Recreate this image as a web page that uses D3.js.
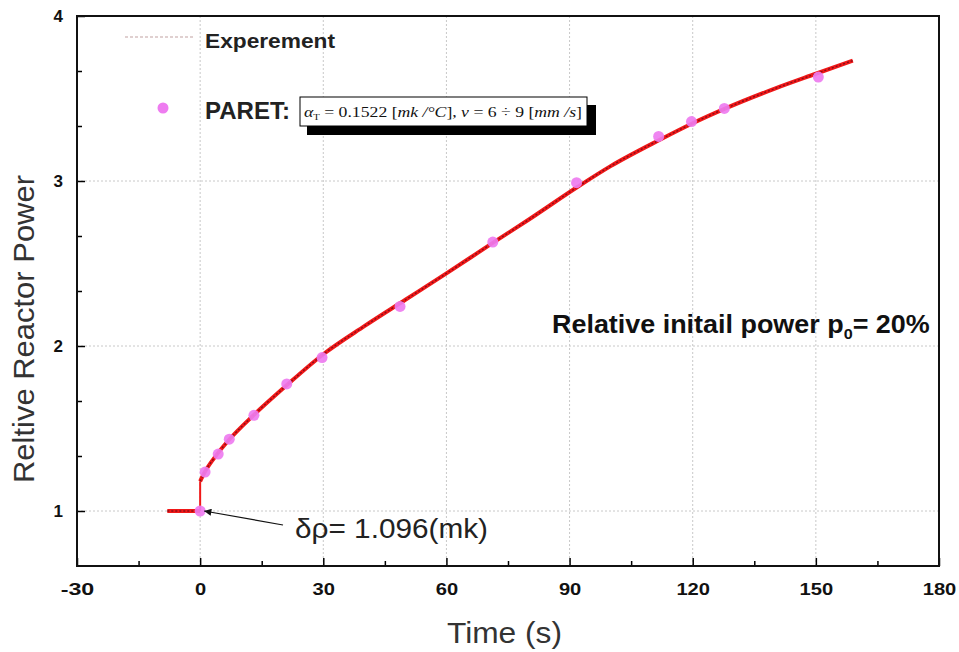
<!DOCTYPE html>
<html><head><meta charset="utf-8">
<script src="https://cdn.jsdelivr.net/npm/d3@7"></script>
<style>body{margin:0;background:#fff;} svg{display:block;font-family:"Liberation Sans",Arial,sans-serif;}</style>
</head><body><svg id="c" width="959" height="652"></svg>
<script>
// Experimental curve (time s, relative power)
const expBaseTime  = [-8, -4, 0];
const expBasePower = [1.0, 1.0, 1.0];
const expTime  = [0, 1, 4, 7, 13, 21, 30, 40, 50, 60, 71, 80, 92, 100, 112, 120, 128, 140, 150, 159];
const expPower = [1.18, 1.23, 1.34, 1.43, 1.58, 1.76, 1.95, 2.12, 2.28, 2.44, 2.62, 2.765, 2.965, 3.09, 3.25, 3.35, 3.44, 3.56, 3.65, 3.73];
// PARET points
const paretTime  = [0, 1.2, 4.4, 7.1, 13.1, 21.1, 29.7, 48.7, 71.3, 91.7, 111.7, 119.7, 127.7, 150.6];
const paretPower = [1.0, 1.236, 1.345, 1.435, 1.58, 1.77, 1.93, 2.24, 2.63, 2.99, 3.27, 3.36, 3.44, 3.63];
const xTicks = [-30, 0, 30, 60, 90, 120, 150, 180];
const yTicks = [1, 2, 3, 4];

const svg = d3.select("#c");
const L = 77, R = 939, T = 16, B = 566;
const x = d3.scaleLinear().domain([-30, 180]).range([L, R]);
const y = d3.scaleLinear().domain([2/3, 4]).range([B, T]);

// grid
const grid = svg.append("g").attr("stroke", "#c8c8c8").attr("stroke-width", 1).attr("stroke-dasharray", "2,2");
xTicks.filter(v => v > -30 && v < 180).forEach(v => grid.append("line").attr("x1", x(v)).attr("x2", x(v)).attr("y1", T).attr("y2", B));
yTicks.filter(v => v < 4).forEach(v => grid.append("line").attr("x1", L).attr("x2", R).attr("y1", y(v)).attr("y2", y(v)));

// axes with inward ticks
const fmt = d => String(d);
const xAxis = d3.axisBottom(x).tickValues(xTicks).tickSize(-8).tickPadding(17).tickFormat(fmt);
const gx = svg.append("g").attr("transform", `translate(0,${B})`).call(xAxis);
const xMinor = d3.axisBottom(x).tickValues(d3.range(-15, 180, 30)).tickSize(-5).tickFormat("");
svg.append("g").attr("transform", `translate(0,${B})`).call(xMinor);
const yAxis = d3.axisLeft(y).tickValues(yTicks).tickSize(-8).tickPadding(14).tickFormat(fmt);
const gy = svg.append("g").attr("transform", `translate(${L},0)`).call(yAxis);
const yMinor = d3.axisLeft(y).tickValues([4/3, 5/3, 7/3, 8/3, 10/3, 11/3]).tickSize(-5).tickFormat("");
svg.append("g").attr("transform", `translate(${L},0)`).call(yMinor);
svg.selectAll(".domain").remove();
svg.selectAll(".tick line").attr("stroke", "#000").attr("stroke-width", 1.5);
svg.selectAll(".tick text").attr("font-size", 17).attr("font-weight", "bold").attr("fill", "#111")
   .attr("font-family", "'Liberation Sans',Arial,sans-serif");
gx.selectAll(".tick text").attr("dy", "0.71em").attr("textLength", d => String(d).length * 11.2).attr("lengthAdjust", "spacingAndGlyphs");

// frame
svg.append("rect").attr("x", L).attr("y", T).attr("width", R - L).attr("height", B - T)
  .attr("fill", "none").attr("stroke", "#111").attr("stroke-width", 2);

// experimental curve
const baseLine = d3.line().x(i => x(expBaseTime[i])).y(i => y(expBasePower[i]));
const riseLine = d3.line().x(i => x(expTime[i])).y(i => y(expPower[i])).curve(d3.curveMonotoneX);
const basePts = expBaseTime.map((t, i) => i);
const risePts = expTime.map((t, i) => i);
svg.append("path").attr("d", baseLine(basePts)).attr("fill", "none").attr("stroke", "#f01818").attr("stroke-width", 4);
svg.append("path").attr("d", `M${x(0)},${y(1)}L${x(expTime[0])},${y(expPower[0])}`).attr("fill", "none").attr("stroke", "#f01818").attr("stroke-width", 2);
svg.append("path").datum(risePts).attr("d", riseLine).attr("fill", "none").attr("stroke", "#f01818").attr("stroke-width", 4).attr("stroke-linejoin", "round");
svg.append("path").datum(risePts).attr("d", riseLine).attr("fill", "none").attr("stroke", "#8a0c18").attr("stroke-width", 1.4).attr("stroke-dasharray", "2,2");
svg.append("path").datum(basePts).attr("d", baseLine).attr("fill", "none").attr("stroke", "#8a0c18").attr("stroke-width", 1.4).attr("stroke-dasharray", "2,2");

// PARET points
svg.append("g").selectAll("circle").data(paretTime).join("circle")
  .attr("cx", d => x(d)).attr("cy", (d, i) => y(paretPower[i])).attr("r", 5.5).attr("fill", "#ee7cf0").attr("opacity", 0.92);

// legend
svg.append("line").attr("x1", 125).attr("x2", 195).attr("y1", 37).attr("y2", 37)
  .attr("stroke", "#e0d0d0").attr("stroke-width", 2).attr("stroke-dasharray", "3,2");
svg.append("text").attr("x", 205).attr("y", 48).attr("font-size", 21).attr("font-weight", "bold").attr("fill", "#222")
  .attr("textLength", 130).attr("lengthAdjust", "spacingAndGlyphs").text("Experement");
svg.append("circle").attr("cx", 163).attr("cy", 108).attr("r", 5.5).attr("fill", "#ee7cf0");
svg.append("text").attr("x", 205).attr("y", 119).attr("font-size", 24).attr("font-weight", "bold").attr("fill", "#222")
  .attr("textLength", 85).attr("lengthAdjust", "spacingAndGlyphs").text("PARET:");
svg.append("rect").attr("x", 307).attr("y", 105).attr("width", 289).attr("height", 30).attr("fill", "#000");
svg.append("rect").attr("x", 300).attr("y", 97).attr("width", 287).attr("height", 29).attr("fill", "#fff").attr("stroke", "#000").attr("stroke-width", 1);
const ft = svg.append("text").attr("transform", "translate(304,117) scale(1.18,1)").attr("font-family", "'Liberation Serif','Times New Roman',serif").attr("font-size", 15).attr("fill", "#111");
ft.append("tspan").attr("font-style", "italic").text("α");
ft.append("tspan").attr("font-size", 9).attr("dy", 3).text("T");
ft.append("tspan").attr("dy", -3).text(" = 0.1522 [");
ft.append("tspan").attr("font-style", "italic").text("mk /°C");
ft.append("tspan").text("], ");
ft.append("tspan").attr("font-style", "italic").text("v");
ft.append("tspan").text(" = 6 ÷ 9 [");
ft.append("tspan").attr("font-style", "italic").text("mm /s");
ft.append("tspan").text("]");

// annotation
svg.append("defs").append("marker").attr("id", "ah").attr("viewBox", "0 0 10 10").attr("refX", 10).attr("refY", 5)
  .attr("markerWidth", 8).attr("markerHeight", 6).attr("orient", "auto").append("path").attr("d", "M0,0L10,5L0,10z").attr("fill", "#111");
svg.append("line").attr("x1", 283).attr("y1", 525).attr("x2", x(0) + 4).attr("y2", y(1)).attr("stroke", "#111").attr("stroke-width", 1.2).attr("marker-end", "url(#ah)");
svg.append("text").attr("x", 295).attr("y", 538).attr("font-size", 27).attr("fill", "#222")
  .attr("textLength", 193).attr("lengthAdjust", "spacingAndGlyphs").text("δρ= 1.096(mk)");

const rt = svg.append("text").attr("transform", "translate(552,333) scale(1.077,1)").attr("font-size", 25).attr("font-weight", "bold").attr("fill", "#111");
rt.append("tspan").text("Relative initail power p");
rt.append("tspan").attr("font-size", 15).attr("dy", 6).text("0");
rt.append("tspan").attr("dy", -6).text("= 20%");

// axis titles
svg.append("text").attr("x", 447).attr("y", 643).attr("font-size", 29).attr("fill", "#333")
  .attr("textLength", 115).attr("lengthAdjust", "spacingAndGlyphs").text("Time (s)");
svg.append("text").attr("transform", "translate(34,483) rotate(-90)").attr("font-size", 29).attr("fill", "#333")
  .attr("textLength", 308).attr("lengthAdjust", "spacingAndGlyphs").text("Reltive Reactor Power");
</script></body></html>
